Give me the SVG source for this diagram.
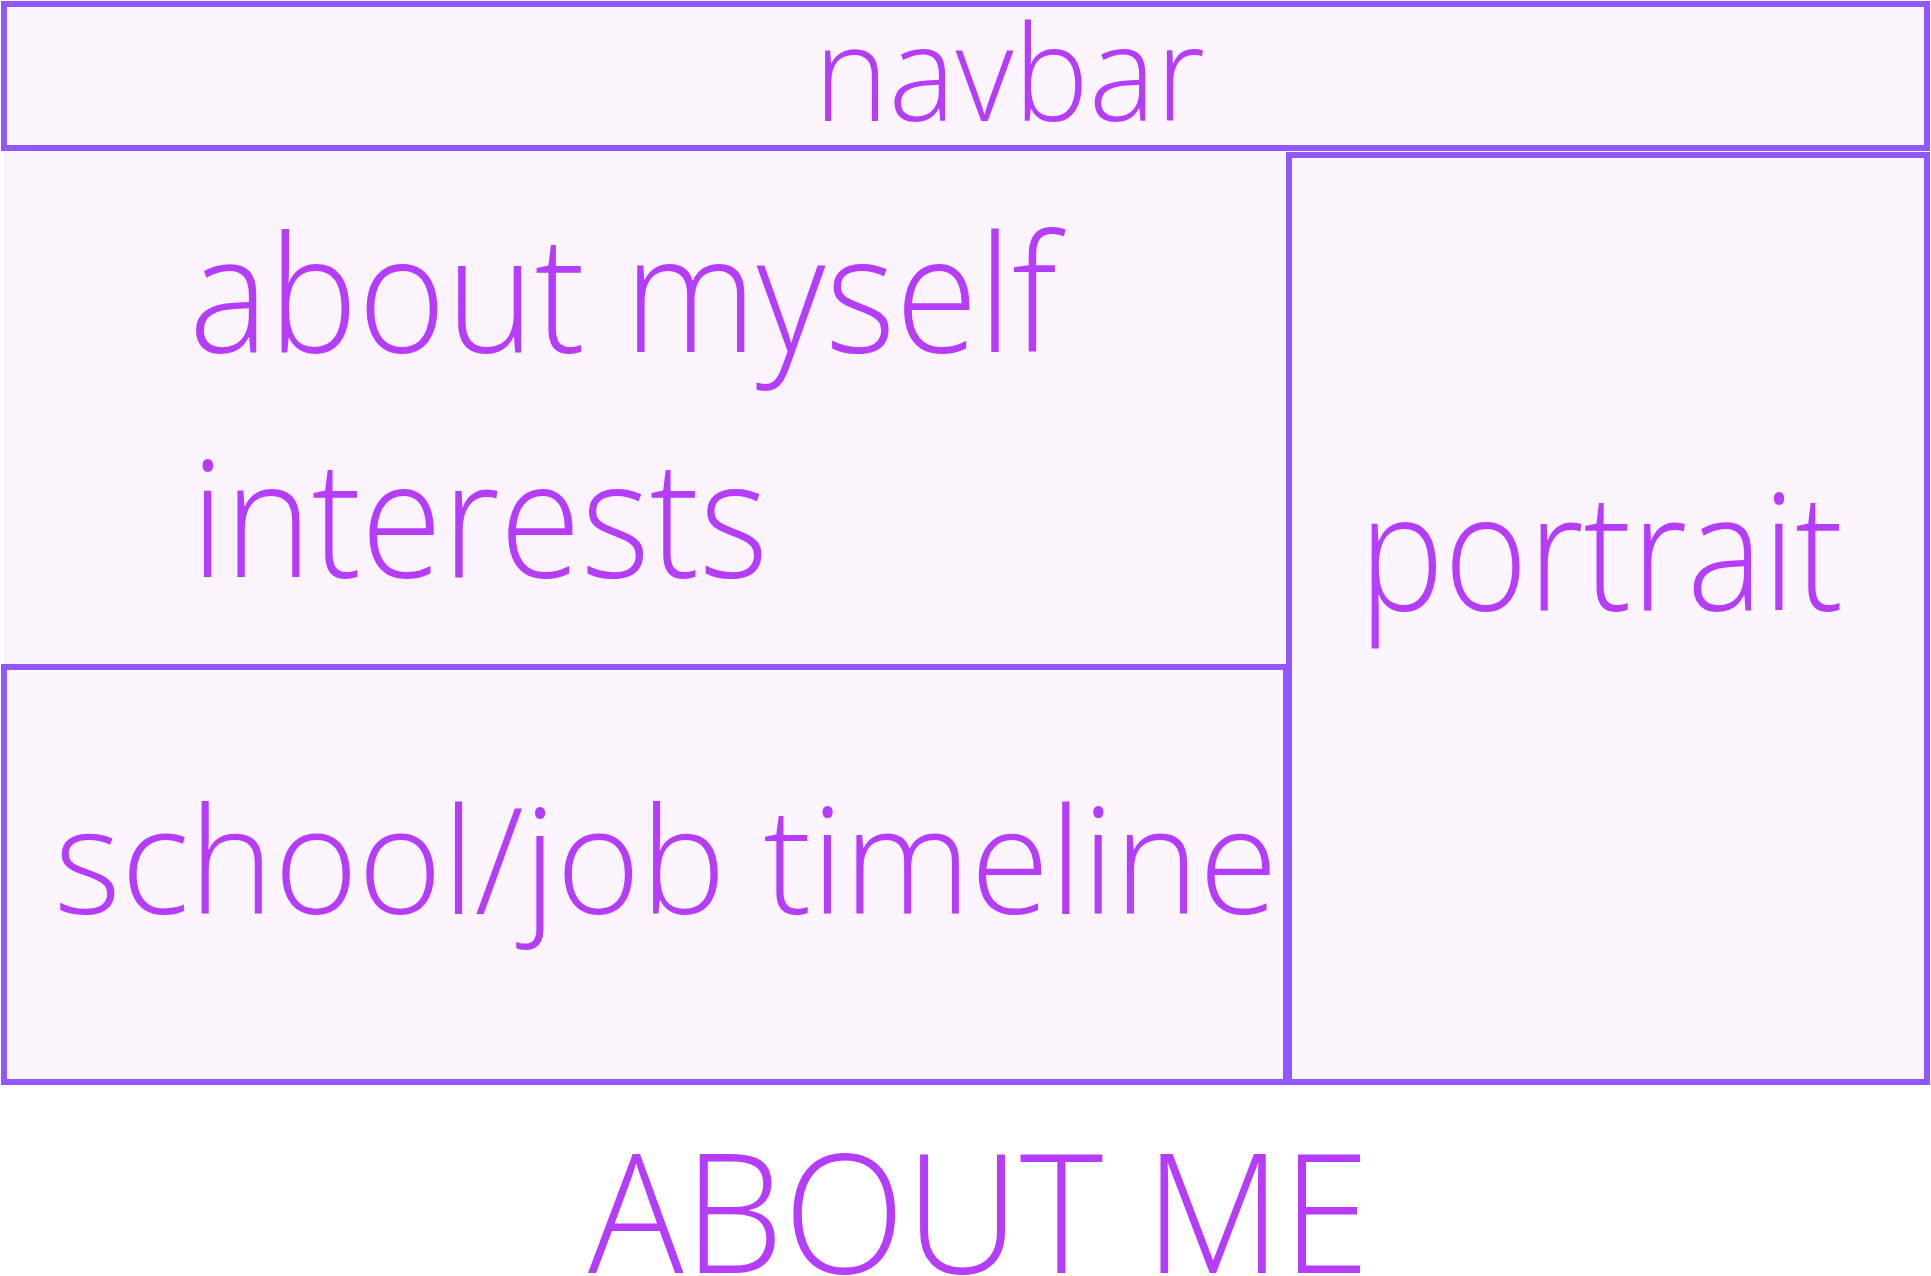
<svg xmlns="http://www.w3.org/2000/svg" width="1931" height="1276" viewBox="0 0 1931 1276">
<style>
.box{fill:#FDF5FE;stroke:#9156FC;stroke-width:6}
.t{font-family:"Open Sans","Noto Sans","Liberation Sans",sans-serif;font-weight:300;fill:#B53DFA}
</style>
<rect x="0" y="0" width="1931" height="1276" fill="#FFFFFF"/>
<g id="about">
<rect x="4" y="151" width="1282" height="513" fill="#FBF4FD"/>
<text class="t" x="189" y="352" font-size="162" textLength="868" lengthAdjust="spacingAndGlyphs">about myself</text>
<text class="t" x="191" y="577" font-size="162" textLength="577" lengthAdjust="spacingAndGlyphs">interests</text>
</g>
<g id="navbar">
<rect class="box" x="4" y="4" width="1923" height="144"/>
<text class="t" x="814" y="121" font-size="132" textLength="391" lengthAdjust="spacingAndGlyphs">navbar</text>
</g>
<g id="timeline">
<rect class="box" x="4" y="667" width="1282" height="415"/>
<text class="t" x="54" y="914" font-size="148" textLength="1224" lengthAdjust="spacingAndGlyphs">school/job timeline</text>
</g>
<g id="portrait">
<rect class="box" x="1289" y="155" width="638" height="927"/>
<text class="t" x="1359" y="610" font-size="162" textLength="484" lengthAdjust="spacingAndGlyphs">portrait</text>
</g>
<g id="title">
<text class="t" x="588" y="1273" font-size="167" textLength="782" lengthAdjust="spacingAndGlyphs">ABOUT ME</text>
</g>
<g id="connectors"></g>
</svg>
